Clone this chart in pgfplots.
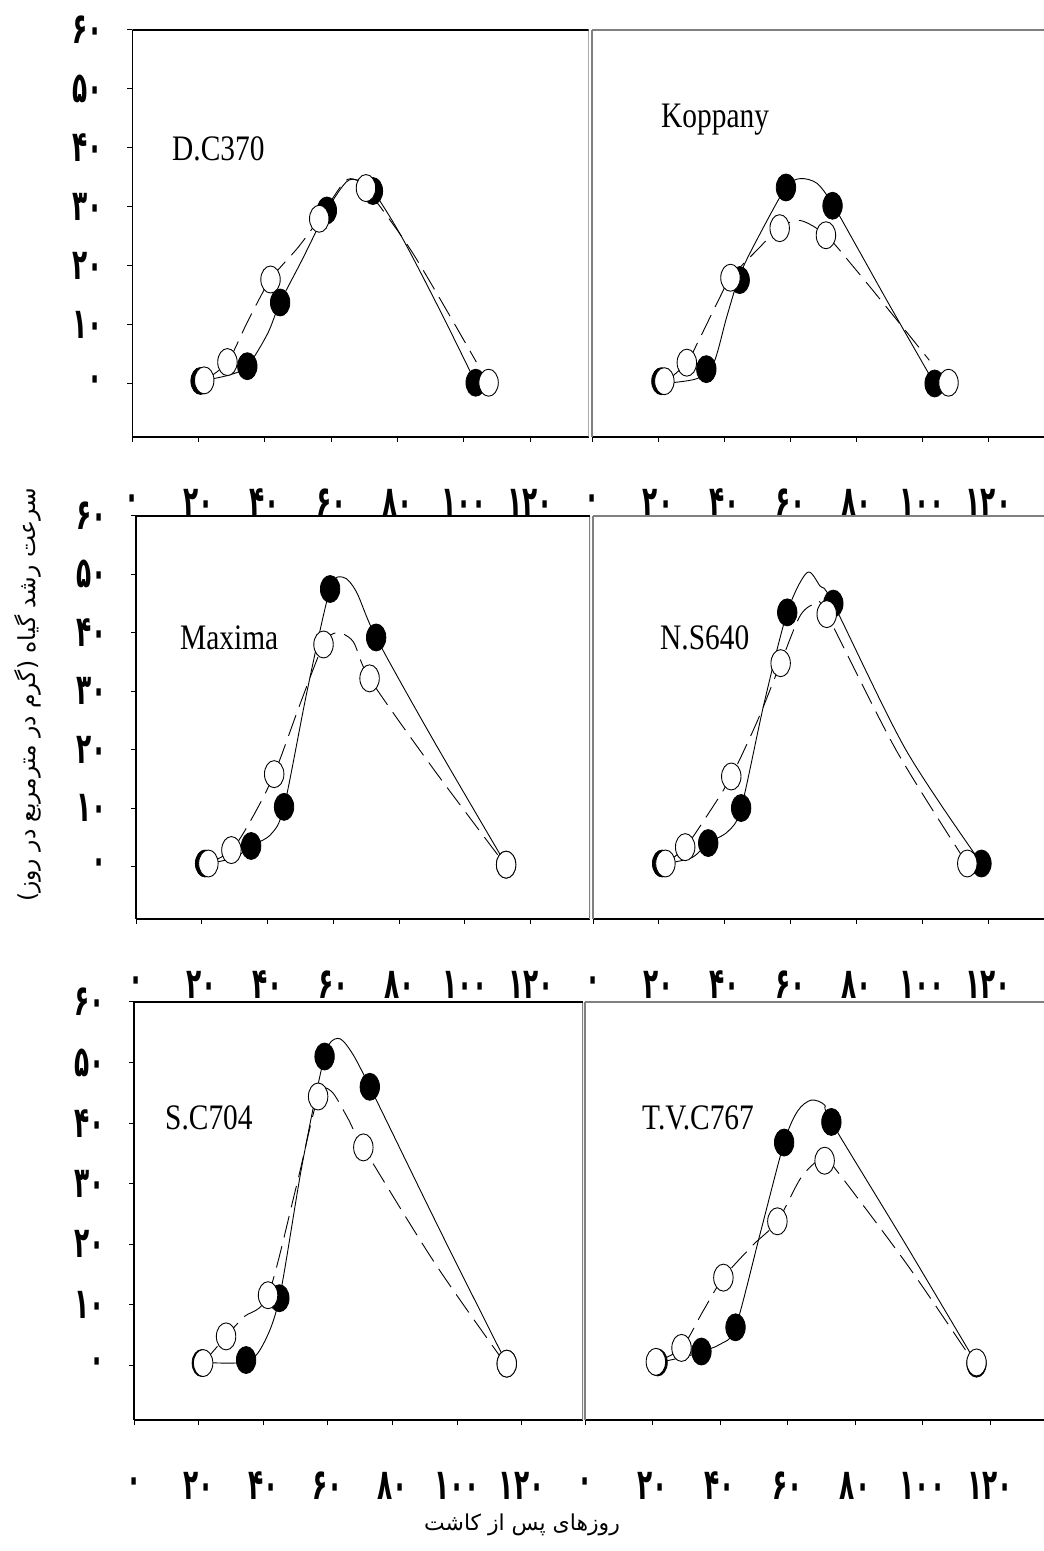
\documentclass[border=0pt]{standalone}
\usepackage{pgfplots}
\pgfplotsset{compat=1.18}
\usepackage{fontspec}
\TeXXeTstate=1
\newfontfamily\arabicfont[Script=Arabic]{DejaVu Sans}
\newfontfamily\pdig[Script=Arabic,FakeStretch=0.58]{DejaVu Sans}
\newfontfamily\latin[FakeStretch=0.82]{Liberation Serif}

\pgfplotsset{
 panel/.style={scale only axis, anchor=south west, xmin=0, ymin=-9, ymax=60,
   axis x line*=bottom, axis y line*=left,
   axis line style={-, line width=1.1bp},
   xtick={0,20,...,120}, xticklabels={۰,۲۰,۴۰,۶۰,۸۰,۱۰۰,۱۲۰},
   ytick={0,10,...,60}, yticklabels={۰,۱۰,۲۰,۳۰,۴۰,۵۰,۶۰},
   tick align=outside, major tick length=5bp,
   tick style={line width=1bp, black},
   xticklabel style={font=\pdig\bfseries\fontsize{43}{43}\selectfont, anchor=center, yshift=-61bp},
   yticklabel style={font=\pdig\bfseries\fontsize{43}{43}\selectfont, anchor=east, inner sep=0pt, xshift=-24bp},
 },
 leftp/.style={panel},
 rightp/.style={panel, ytick=\empty, y axis line style={gray}},
 sol/.style={black, line width=0.9bp, smooth, tension=0.5, no marks},
 dsh/.style={black, line width=0.9bp, smooth, tension=0.5, no marks, dash pattern=on 22bp off 9bp},
 fil/.style={only marks, mark=*, mark size=13.5bp, mark options={xscale=0.72, fill=black, draw=black, line width=0.8bp}},
 opn/.style={only marks, mark=*, mark size=13.5bp, mark options={xscale=0.72, fill=white, draw=black, line width=0.9bp}},
}
\newcommand{\framelr}{\draw[gray, line width=1.1bp] (rel axis cs:1,0) -- (rel axis cs:1,1);
  \draw[black, line width=1.1bp] (rel axis cs:0,1) -- (rel axis cs:1,1);}
\newcommand{\framert}{\draw[gray, line width=1.1bp] (rel axis cs:0,1) -- (rel axis cs:1,1);}

\begin{document}
\begin{tikzpicture}[x=1bp,y=1bp]
\useasboundingbox (0bp,0bp) rectangle (1044bp,1551bp);

% ---------------- Row 1 left: D.C370
\begin{axis}[leftp, at={(132.3bp,1114bp)}, width=456.4bp, height=407bp, xmax=137.7]
\addplot[sol] coordinates {(21.7,0.6)(29.2,1.5)(34.7,3.0)(40.8,8.5)(44.6,13.8)(51.2,21.0)(58.7,29.4)(64.5,34.2)(68,34.5)(72.6,32.7)(81.3,24.9)(92.8,12.5)(103.6,0.2)};
\addplot[dsh] coordinates {(21.7,0.6)(28.7,3.7)(35,10.8)(41.7,17.7)(50.1,23.2)(56.4,28)(63.9,34.2)(67.4,34.6)(70.5,33.2)(84.7,22.1)(103.8,3.7)};
\addplot[fil] coordinates {(20.6,0.5)(34.7,3.0)(44.6,13.8)(58.7,29.4)(72.6,32.7)(103.6,0.2)};
\addplot[opn] coordinates {(21.7,0.6)(28.7,3.7)(41.7,17.7)(56.4,28.0)(70.5,33.2)(107.5,0.2)};
\framelr
\end{axis}

% ---------------- Row 1 right: Koppany
\begin{axis}[rightp, at={(592bp,1114bp)}, width=452bp, height=407bp, xmax=136.8]
\addplot[sol] coordinates {(22,0.1)(31.8,0.9)(36.8,3.5)(40.8,11.4)(44.9,18.7)(50.9,25.5)(58.7,33.3)(63,34.8)(68.1,34.0)(72.8,30.5)(80.2,23.2)(90.3,13.1)(103.6,0.1)};
\addplot[dsh] coordinates {(21.9,0.1)(28.7,3.6)(31.8,6.8)(38.8,14.8)(41.9,18.0)(48.9,22.1)(56.8,26.4)(63,27.7)(70.8,25.2)(79.2,19.8)(90.3,12.2)(102.1,4.0)};
\addplot[fil] coordinates {(21.0,0.46)(34.6,2.5)(44.7,17.6)(58.7,33.3)(72.8,30.2)(103.7,0.07)};
\addplot[opn] coordinates {(21.9,0.46)(28.7,3.6)(41.9,18.0)(56.8,26.4)(70.8,25.2)(107.9,0.2)};
\framert
\end{axis}

% ---------------- Row 2 left: Maxima
\begin{axis}[leftp, at={(136bp,632bp)}, width=454bp, height=403bp, xmax=138]
\addplot[sol] coordinates {(22,0.5)(30,1.5)(35,3.5)(41,5.5)(45,10.2)(52,30)(59,47.5)(63,49.5)(67,47)(73,39.2)(90,22)(112.5,0.3)};
\addplot[dsh] coordinates {(22,0.5)(29,2.8)(35,8)(42,15.8)(50,28)(57,38)(61,40)(66,38.5)(71,32.2)(90,17)(111,1.2)};
\addplot[fil] coordinates {(21,0.5)(35,3.5)(45,10.2)(59,47.5)(73,39.2)(112.5,0.3)};
\addplot[opn] coordinates {(22,0.5)(29,2.8)(42,15.8)(57,38)(71,32.2)(112.5,0.3)};
\framelr
\end{axis}

% ---------------- Row 2 right: N.S640
\begin{axis}[rightp, at={(593bp,632bp)}, width=451bp, height=403bp, xmax=137]
\addplot[sol] coordinates {(22,0.5)(30,1.5)(35,4)(41,6)(45,10)(52,28)(59,43.5)(65,50.3)(69,48)(73,45)(95,20)(118,0.5)};
\addplot[dsh] coordinates {(22,0.5)(28,3.3)(35,9)(42,15.4)(50,25)(57,34.8)(63,43)(68,45)(71,43.2)(92,20)(113,1)};
\addplot[fil] coordinates {(21,0.5)(35,4)(45,10)(59,43.5)(73,45)(118,0.5)};
\addplot[opn] coordinates {(22,0.5)(28,3.3)(42,15.4)(57,34.8)(71,43.2)(113.7,0.5)};
\framert
\end{axis}

% ---------------- Row 3 left: S.C704
\begin{axis}[leftp, at={(134bp,131bp)}, width=449bp, height=418bp, xmax=139]
\addplot[sol] coordinates {(22,0.5)(34.7,0.6)(40,3.5)(45,11.1)(52,33)(59,51)(63,54)(67,52)(73,46)(95,22)(115.4,0.3)};
\addplot[dsh] coordinates {(21.4,0.4)(28.5,4.8)(34,8)(41.5,11.6)(50,29)(57,44.4)(61,45.3)(66,41)(71,36)(93,17)(114,1)};
\addplot[fil] coordinates {(21,0.4)(34.7,0.9)(45,11.1)(59,51)(73,46)(115.4,0.3)};
\addplot[opn] coordinates {(21.4,0.4)(28.5,4.8)(41.5,11.6)(57,44.4)(71,36)(115.4,0.3)};
\framelr
\end{axis}

% ---------------- Row 3 right: T.V.C767
\begin{axis}[rightp, at={(585bp,131bp)}, width=459bp, height=418bp, xmax=136]
\addplot[sol] coordinates {(22,0.5)(30,1.5)(34.5,2.3)(40,3.5)(44.6,6.3)(52,22)(59,36.8)(63,42)(67,43.8)(71,43)(73,40.2)(95,20)(116,0.3)};
\addplot[dsh] coordinates {(21,0.6)(28.6,2.9)(35,9)(41,14.5)(50,20)(57,23.8)(64,31)(70,34.3)(72,34)(95,17)(114,1.5)};
\addplot[fil] coordinates {(21.5,0.5)(34.5,2.3)(44.6,6.3)(59,36.8)(73,40.2)(116,0.3)};
\addplot[opn] coordinates {(21,0.6)(28.6,2.9)(41,14.5)(57,23.8)(71,33.8)(116,0.5)};
\framert
\end{axis}

% panel names
\begin{scope}[every node/.style={anchor=base west, inner sep=0pt, font=\latin\fontsize{36}{36}\selectfont}]
\node at (172bp,1390bp) {D.C370};
\node at (661bp,1423bp) {Koppany};
\node at (180bp,901bp) {Maxima};
\node at (660bp,901bp) {N.S640};
\node at (165bp,421bp) {S.C704};
\node at (642bp,421bp) {T.V.C767};
\end{scope}

% axis titles
\node[rotate=90, font=\arabicfont\fontsize{23.5}{23.5}\selectfont] at (28bp,856bp) {\beginR سرعت رشد گیاه (گرم در مترمربع در روز)\endR};
\node[font=\arabicfont\fontsize{22}{22}\selectfont] at (522bp,26bp) {\beginR روزهای پس از کاشت\endR};
\end{tikzpicture}
\end{document}
